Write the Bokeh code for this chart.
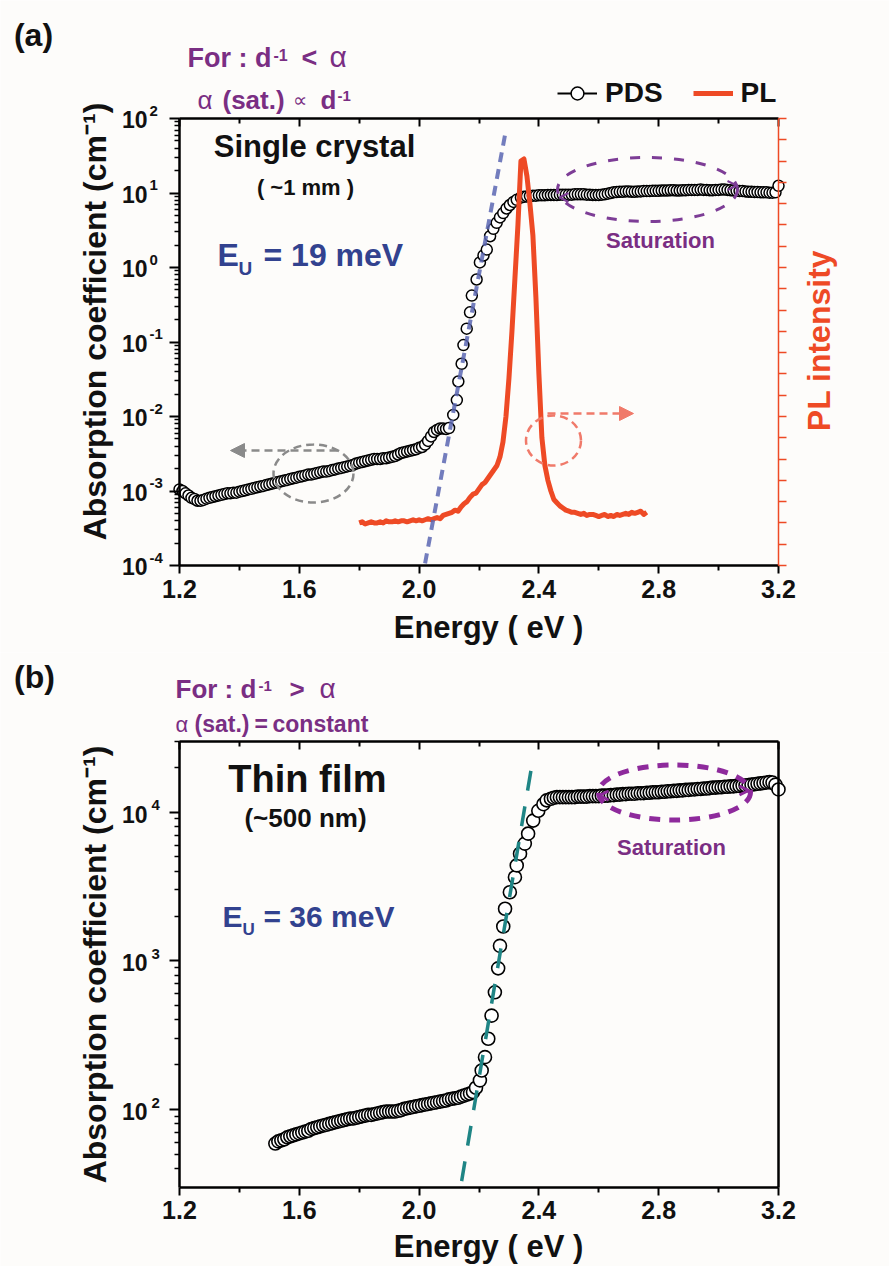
import math
import numpy as np
from bokeh.plotting import figure
from bokeh.models import (Range1d, LinearAxis, LogAxis, FixedTicker, CustomJSTickFormatter,
                          Label, Arrow, NormalHead, OpenHead, Legend, LegendItem, LinearScale)
from bokeh.layouts import column
from bokeh.embed import file_html
from bokeh.resources import INLINE

# ---------------- data ----------------
x_ticks_major = [1.2, 1.6, 2.0, 2.4, 2.8, 3.2]
x_ticks_minor = [1.4, 1.8, 2.2, 2.6, 3.0]
a_decades = [1e-4, 1e-3, 1e-2, 1e-1, 1e0, 1e1, 1e2]
a_exponents = ["-4", "-3", "-2", "-1", "0", "1", "2"]
b_decades = [1e2, 1e3, 1e4]
b_exponents = ["2", "3", "4"]

# (a) single crystal PDS
pds_a_energy = [
    1.20, 1.21, 1.22, 1.23, 1.24, 1.25, 1.26, 1.27, 1.28, 1.29,
    1.30, 1.31, 1.32, 1.33, 1.34, 1.35, 1.36, 1.37, 1.38, 1.39,
    1.40, 1.41, 1.42, 1.43, 1.44, 1.45, 1.46, 1.47, 1.48, 1.49,
    1.50, 1.51, 1.52, 1.53, 1.54, 1.55, 1.56, 1.57, 1.58, 1.59,
    1.60, 1.61, 1.62, 1.63, 1.64, 1.65, 1.66, 1.67, 1.68, 1.69,
    1.70, 1.71, 1.72, 1.73, 1.74, 1.75, 1.76, 1.77, 1.78, 1.79,
    1.80, 1.81, 1.82, 1.83, 1.84, 1.85, 1.86, 1.87, 1.88, 1.89,
    1.90, 1.91, 1.92, 1.93, 1.94, 1.95, 1.96, 1.97, 1.98, 1.99,
    2.00, 2.01, 2.02, 2.03, 2.04, 2.05, 2.06, 2.07, 2.08, 2.09, 2.10,
    2.114, 2.126, 2.131, 2.142, 2.148, 2.159, 2.170, 2.176, 2.192, 2.203,
    2.215, 2.226, 2.237, 2.248, 2.259, 2.270, 2.281, 2.292, 2.303, 2.315, 2.326,
    2.34, 2.35, 2.36, 2.37, 2.38, 2.39,
    2.40, 2.41, 2.42, 2.43, 2.44, 2.45, 2.46, 2.47, 2.48, 2.49,
    2.50, 2.51, 2.52, 2.53, 2.54, 2.55, 2.56, 2.57, 2.58, 2.59,
    2.60, 2.61, 2.62, 2.63, 2.64, 2.65, 2.66, 2.67, 2.68, 2.69,
    2.70, 2.71, 2.72, 2.73, 2.74, 2.75, 2.76, 2.77, 2.78, 2.79,
    2.80, 2.81, 2.82, 2.83, 2.84, 2.85, 2.86, 2.87, 2.88, 2.89,
    2.90, 2.91, 2.92, 2.93, 2.94, 2.95, 2.96, 2.97, 2.98, 2.99,
    3.00, 3.01, 3.02, 3.03, 3.04, 3.05, 3.06, 3.07, 3.08, 3.09,
    3.10, 3.11, 3.12, 3.13, 3.14, 3.15, 3.16, 3.17, 3.18, 3.19, 3.20,
]
pds_a_alpha = [
    1.05e-3, 1.00e-3, 9.3e-4, 8.7e-4, 8.1e-4, 7.8e-4, 7.4e-4, 7.4e-4, 7.6e-4, 7.9e-4,
    8.1e-4, 8.3e-4, 8.5e-4, 8.7e-4, 8.9e-4, 9.1e-4, 9.3e-4, 9.3e-4, 9.5e-4, 9.5e-4,
    9.8e-4, 1.00e-3, 1.02e-3, 1.05e-3, 1.07e-3, 1.10e-3, 1.12e-3, 1.15e-3, 1.17e-3, 1.20e-3,
    1.23e-3, 1.26e-3, 1.29e-3, 1.32e-3, 1.35e-3, 1.38e-3, 1.41e-3, 1.45e-3, 1.48e-3, 1.51e-3,
    1.55e-3, 1.58e-3, 1.62e-3, 1.66e-3, 1.66e-3, 1.70e-3, 1.74e-3, 1.78e-3, 1.82e-3, 1.82e-3,
    1.86e-3, 1.91e-3, 1.95e-3, 2.00e-3, 2.04e-3, 2.09e-3, 2.14e-3, 2.19e-3, 2.24e-3, 2.34e-3,
    2.40e-3, 2.45e-3, 2.51e-3, 2.57e-3, 2.63e-3, 2.69e-3, 2.69e-3, 2.69e-3, 2.75e-3, 2.75e-3,
    2.82e-3, 2.88e-3, 2.95e-3, 3.09e-3, 3.24e-3, 3.31e-3, 3.39e-3, 3.47e-3, 3.55e-3, 3.63e-3,
    3.80e-3, 3.90e-3, 4.2e-3, 4.7e-3, 5.4e-3, 6.2e-3, 6.6e-3, 6.9e-3, 6.9e-3, 6.8e-3, 7.0e-3,
    1.05e-2, 1.66e-2, 2.95e-2, 5.1e-2, 9.1e-2, 0.151, 0.25, 0.42, 0.69, 1.17,
    1.45, 1.74, 2.63, 3.3, 3.98, 4.7, 5.37, 6.2, 6.9, 7.6, 8.1,
    8.7, 8.9, 9.0, 9.1, 9.2, 9.2,
    9.3, 9.3, 9.3, 9.4, 9.4, 9.4, 9.4, 9.5, 9.5, 9.5,
    9.5, 9.5, 9.6, 9.6, 9.6, 9.6, 9.5, 9.5, 9.4, 9.4,
    9.4, 9.5, 9.6, 9.8, 10.0, 10.2, 10.3, 10.4, 10.4, 10.5,
    10.5, 10.4, 10.4, 10.5, 10.5, 10.6, 10.6, 10.6, 10.7, 10.7,
    10.7, 10.8, 10.8, 10.8, 10.9, 10.9, 10.8, 10.8, 10.9, 10.9,
    11.0, 11.0, 11.0, 11.0, 11.1, 11.0, 11.0, 10.9, 10.9, 11.0,
    11.0, 11.1, 11.1, 11.0, 10.9, 10.8, 10.7, 10.6, 10.6, 10.5,
    10.4, 10.4, 10.3, 10.3, 10.2, 10.2, 10.2, 10.1, 10.1, 10.2, 12.5,
]

# (a) photoluminescence (arbitrary units on the right axis)
pl_energy = [
    1.80, 1.81, 1.82, 1.83, 1.84, 1.85, 1.86, 1.87, 1.88, 1.89,
    1.90, 1.91, 1.92, 1.93, 1.94, 1.95, 1.96, 1.97, 1.98, 1.99,
    2.00, 2.01, 2.02, 2.03, 2.04, 2.05, 2.06, 2.07, 2.08, 2.09,
    2.10, 2.11, 2.12, 2.13, 2.14, 2.15, 2.16, 2.17, 2.18, 2.19,
    2.20, 2.21, 2.22, 2.23, 2.24, 2.25, 2.26, 2.27, 2.28, 2.29,
    2.30, 2.31, 2.32, 2.33, 2.34, 2.35, 2.36, 2.37, 2.38, 2.39,
    2.40, 2.41, 2.42, 2.43, 2.44, 2.45, 2.46, 2.47, 2.48, 2.49,
    2.50, 2.51, 2.52, 2.53, 2.54, 2.55, 2.56, 2.57, 2.58, 2.59,
    2.60, 2.61, 2.62, 2.63, 2.64, 2.65, 2.66, 2.67, 2.68, 2.69,
    2.70, 2.71, 2.72, 2.73, 2.74, 2.75, 2.76,
]
pl_intensity = [
    2.0, 2.05, 1.95, 2.0, 2.05, 2.0, 2.0, 2.05, 2.0, 2.1,
    2.05, 2.05, 2.1, 2.05, 2.1, 2.1, 2.05, 2.1, 2.15, 2.1,
    2.15, 2.1, 2.15, 2.2, 2.15, 2.2, 2.25, 2.2, 2.35, 2.4,
    2.45, 2.5, 2.6, 2.55, 2.75, 2.9, 3.0, 3.2, 3.35, 3.4,
    3.6, 3.8, 3.9, 4.1, 4.3, 4.5, 4.7, 5.1, 5.8, 7.0,
    8.8, 11.0, 13.5, 16.0, 19.0, 19.1, 18.3, 17.0, 15.5, 12.6,
    9.0, 6.0, 4.7, 4.0, 3.5, 3.1, 2.95, 2.8, 2.7, 2.6,
    2.55, 2.5, 2.5, 2.45, 2.4, 2.45, 2.35, 2.4, 2.4, 2.35,
    2.3, 2.35, 2.4, 2.3, 2.35, 2.3, 2.4, 2.35, 2.4, 2.45,
    2.4, 2.5, 2.45, 2.5, 2.55, 2.4, 2.5,
]
pl_ticks = [0, 1, 2, 3, 4, 5, 6, 7, 8, 9, 10, 11, 12, 13, 14, 15, 16, 17, 18, 19, 20, 21]

# (a) Urbach tail fit (E_U = 19 meV)
urbach_a_energy = [2.02, 2.29]
urbach_a_alpha = [1.07e-4, 7.0e1]

# (b) thin film PDS
pds_b_energy = [
    1.52, 1.53, 1.54, 1.55, 1.56, 1.57, 1.58, 1.59,
    1.60, 1.61, 1.62, 1.63, 1.64, 1.65, 1.66, 1.67, 1.68, 1.69,
    1.70, 1.71, 1.72, 1.73, 1.74, 1.75, 1.76, 1.77, 1.78, 1.79,
    1.80, 1.81, 1.82, 1.83, 1.84, 1.85, 1.86, 1.87, 1.88, 1.89,
    1.90, 1.91, 1.92, 1.93, 1.94, 1.95, 1.96, 1.97, 1.98, 1.99,
    2.00, 2.01, 2.02, 2.03, 2.04, 2.05, 2.06, 2.07, 2.08, 2.09,
    2.10, 2.11, 2.12, 2.13, 2.14, 2.15, 2.16, 2.17, 2.18,
    2.190, 2.203, 2.209, 2.220, 2.231, 2.242, 2.253, 2.264, 2.270, 2.281,
    2.287, 2.303, 2.320, 2.326, 2.337, 2.353, 2.364, 2.381, 2.398, 2.415,
    2.426, 2.44, 2.45,
    2.46, 2.47, 2.48, 2.49,
    2.50, 2.51, 2.52, 2.53, 2.54, 2.55, 2.56, 2.57, 2.58, 2.59,
    2.60, 2.61, 2.62, 2.63, 2.64, 2.65, 2.66, 2.67, 2.68, 2.69,
    2.70, 2.71, 2.72, 2.73, 2.74, 2.75, 2.76, 2.77, 2.78, 2.79,
    2.80, 2.81, 2.82, 2.83, 2.84, 2.85, 2.86, 2.87, 2.88, 2.89,
    2.90, 2.91, 2.92, 2.93, 2.94, 2.95, 2.96, 2.97, 2.98, 2.99,
    3.00, 3.01, 3.02, 3.03, 3.04, 3.05, 3.06, 3.07, 3.08, 3.09,
    3.10, 3.11, 3.12, 3.13, 3.14, 3.15, 3.16, 3.17, 3.18, 3.19, 3.20,
]
pds_b_alpha = [
    59, 61, 62, 63, 65, 66, 67, 68,
    69, 70, 71, 72, 74, 75, 76, 77, 78, 79,
    80, 81, 82, 83, 84, 85, 86, 87, 87, 88,
    89, 90, 91, 92, 92, 93, 94, 95, 96, 97,
    97, 97, 97, 98, 99, 101, 102, 103, 104, 105,
    106, 107, 108, 109, 110, 111, 112, 113, 114, 115,
    117, 118, 119, 120, 122, 124, 126, 128, 131,
    140, 157, 183, 225, 299, 428, 614, 890, 1260, 1700,
    2240, 2890, 3650, 4380, 5250, 6140, 7160, 8770, 10200, 11300,
    12000, 12300, 12500,
    12600, 12600, 12600, 12600,
    12600, 12600, 12600, 12700, 12700, 12700, 12700, 12800, 12800, 12800,
    12800, 12900, 12900, 12900, 13000, 13000, 13100, 13100, 13200, 13200,
    13300, 13300, 13300, 13400, 13400, 13400, 13500, 13500, 13600, 13600,
    13600, 13700, 13700, 13800, 13800, 13900, 13900, 14000, 14000, 14100,
    14100, 14200, 14200, 14300, 14300, 14400, 14400, 14500, 14600, 14600,
    14700, 14700, 14800, 14800, 14900, 14900, 15000, 15000, 15100, 15100,
    15200, 15300, 15400, 15500, 15600, 15700, 15800, 15900, 15800, 15300, 14200,
]

# (b) Urbach tail fit (E_U = 36 meV)
urbach_b_energy = [2.142, 2.381]
urbach_b_alpha = [33.0, 2.34e4]

# ---------------- layout constants (page pixels) ----------------
FONT = "Liberation Sans"
BG = "#fdfcfa"
PURPLE = "#7a2e83"
PURPLE_E = "#7d3d96"
PURPLE_E2 = "#8e2a9c"
BLUE_T = "#32428f"
RED = "#ee4a25"
INK = "#111111"
W = 889
H_A = 652          # panel (a) occupies page rows 0..652
H_B = 1266 - H_A   # panel (b) occupies the rest

X_LEFT, X_RIGHT = 179.0, 778.0          # frame edges (both panels)
A_TOP, A_BOT = 118.0, 565.0             # panel (a) frame, 1e2 .. 1e-4
A_DEC = (A_BOT - A_TOP) / 6.0
B_DEC = 148.7                            # panel (b) pixels per decade
B_Y100 = 1109.0                          # page row of 1e2 in panel (b)
PL_UNIT = (A_BOT - A_TOP) / 21.0


def px_x(px):
    return 1.2 + (px - X_LEFT) / ((X_RIGHT - X_LEFT) / 2.0)


def a_y(py):
    return 10 ** (-4 + (A_BOT - py) / A_DEC)


def b_y(py):
    return 10 ** (2 - (py - B_Y100) / B_DEC)


def pl_y(py):
    return (A_BOT - py) / PL_UNIT


def lab(p, x, y, text, size, color=INK, bold=True, align="left", angle=0.0):
    p.add_layout(Label(x=x, y=y, text=text, text_font=FONT,
                       text_font_size=f"{size}px",
                       text_font_style="bold" if bold else "normal",
                       text_color=color, text_align=align,
                       text_baseline="middle", angle=angle))


def tx(p, conv, px, base, text, size, color=INK, bold=True, align="left"):
    # place text by its baseline row (page pixels); rendered with a middle baseline
    lab(p, px_x(px), conv(base - 0.355 * size), text, size, color, bold, align)


def empty_fmt():
    return CustomJSTickFormatter(code="return ''")


def make_fig(height, y_lo, y_hi):
    p = figure(width=W, height=height,
               x_range=Range1d(px_x(0), px_x(W)), y_range=Range1d(y_lo, y_hi),
               y_axis_type="log", x_axis_location=None, y_axis_location=None,
               output_backend="svg", toolbar_location=None, min_border=0)
    p.background_fill_color = BG
    p.border_fill_color = BG
    p.outline_line_color = None
    p.xgrid.visible = False
    p.ygrid.visible = False
    return p


def add_x_axes(p, y_bottom, y_top):
    xt = FixedTicker(ticks=x_ticks_major, minor_ticks=x_ticks_minor)
    bot = LinearAxis(ticker=xt, fixed_location=y_bottom, bounds=(1.2, 3.2),
                     formatter=CustomJSTickFormatter(code="return tick.toFixed(1)"),
                     axis_line_width=2.5, major_tick_line_width=2, minor_tick_line_width=2,
                     major_tick_out=8, major_tick_in=0, minor_tick_out=5, minor_tick_in=0,
                     major_label_text_font=FONT, major_label_text_font_style="bold",
                     major_label_text_font_size="25px", major_label_text_color=INK,
                     major_label_standoff=6)
    p.add_layout(bot, "below")
    top = LinearAxis(ticker=xt, fixed_location=y_top, bounds=(1.2, 3.2),
                     formatter=empty_fmt(), axis_line_width=2.5,
                     major_tick_line_width=2, minor_tick_line_width=2,
                     major_tick_in=8, major_tick_out=0, minor_tick_in=5, minor_tick_out=0)
    p.add_layout(top, "above")


# ================= panel (a) =================
p1 = make_fig(H_A, a_y(H_A), a_y(0))
p1.extra_y_ranges = {"pl": Range1d(pl_y(H_A), pl_y(0))}
p1.extra_y_scales = {"pl": LinearScale()}
add_x_axes(p1, 1e-4, 1e2)
minor_a = [k * d for d in a_decades[:-1] for k in range(2, 10)]
left_a = LogAxis(ticker=FixedTicker(ticks=a_decades, minor_ticks=minor_a),
                 fixed_location=1.2, bounds=(1e-4, 1e2), formatter=empty_fmt(),
                 axis_line_width=2.5, major_tick_line_width=2, minor_tick_line_width=1.5,
                 major_tick_out=10, major_tick_in=0, minor_tick_out=5, minor_tick_in=0)
p1.add_layout(left_a, "left")
right_a = LinearAxis(y_range_name="pl", ticker=FixedTicker(ticks=pl_ticks),
                     fixed_location=3.2, bounds=(0, 21), formatter=empty_fmt(),
                     axis_line_color=RED, axis_line_width=1.5,
                     major_tick_line_color=RED, major_tick_line_width=1.5,
                     major_tick_out=8, major_tick_in=0, minor_tick_out=0, minor_tick_in=0)
p1.add_layout(right_a, "right")

leg_line = p1.line(x=np.array([np.nan, np.nan]), y=np.array([np.nan, np.nan]),
                   line_color="black", line_width=2)
sc_a = p1.scatter(pds_a_energy, pds_a_alpha, marker="circle", size=11,
                  fill_color="white", line_color="black", line_width=1.5)
pl_r = p1.line(pl_energy, pl_intensity, y_range_name="pl", line_color=RED,
               line_width=5, line_join="round")
p1.line(urbach_a_energy, urbach_a_alpha, line_color="#5a66b2", line_alpha=0.85,
        line_width=4, line_dash="10 7")

p1.ellipse(x=[px_x(313)], y=[a_y(473)], width=80, height=58, width_units="screen",
           height_units="screen", fill_alpha=0, line_color="#8a8a8a",
           line_width=2.5, line_dash="8 5")
p1.ellipse(x=[px_x(553)], y=[a_y(440)], width=55, height=50, width_units="screen",
           height_units="screen", fill_alpha=0, line_color="#f07a6a",
           line_width=2.5, line_dash="8 5")
p1.ellipse(x=[px_x(647)], y=[a_y(189)], width=180, height=64, width_units="screen",
           height_units="screen", fill_alpha=0, line_color=PURPLE_E,
           line_width=3, line_dash="10 12")

p1.add_layout(Arrow(x_start=px_x(337), y_start=a_y(450), x_end=px_x(230), y_end=a_y(450),
                    line_color="#8a8a8a", line_width=2.5, line_dash="8 5",
                    end=NormalHead(size=14, fill_color="#8a8a8a", line_color="#8a8a8a")))
p1.add_layout(Arrow(x_start=px_x(547), y_start=a_y(413), x_end=px_x(633), y_end=a_y(413),
                    line_color="#f07a6a", line_width=2.5, line_dash="8 5",
                    end=NormalHead(size=14, fill_color="#f07a6a", line_color="#f07a6a")))
p1.add_layout(Arrow(x_start=px_x(572), y_start=a_y(197), x_end=px_x(559), y_end=a_y(197),
                    line_alpha=0, end=OpenHead(size=9, line_color=PURPLE_E, line_width=2)))
p1.add_layout(Arrow(x_start=px_x(722), y_start=a_y(185), x_end=px_x(736), y_end=a_y(185),
                    line_alpha=0, end=OpenHead(size=9, line_color=PURPLE_E, line_width=2)))

legend = Legend(items=[LegendItem(label="PDS", renderers=[leg_line, sc_a]),
                       LegendItem(label="PL", renderers=[pl_r])],
                location=(557, H_A - 109), orientation="horizontal",
                glyph_width=40, glyph_height=32, label_height=32,
                label_standoff=8, spacing=30, padding=0, margin=0,
                label_text_font=FONT, label_text_font_size="28px",
                label_text_font_style="bold", label_text_color=INK,
                border_line_alpha=0, background_fill_alpha=0)
p1.add_layout(legend)

for d, e in zip(a_decades, a_exponents):
    py = A_BOT - (math.log10(d) + 4) * A_DEC
    lab(p1, px_x(147), a_y(py + 1), "10", 23, align="right")
    lab(p1, px_x(149), a_y(py - 8), e, 15, align="left")

lab(p1, px_x(94), a_y(321), "Absorption coefficient (cm\u207b\u00b9)", 32,
    align="center", angle=math.pi / 2)
tx(p1, a_y, 488, 638, "Energy ( eV )", 31, align="center")
lab(p1, px_x(818), a_y(340), "PL intensity", 32, RED, align="center", angle=math.pi / 2)

lab(p1, px_x(33), a_y(34), "(a)", 32, align="center")
tx(p1, a_y, 187, 67, "For : d", 27, PURPLE)
tx(p1, a_y, 273, 60, "-1", 16, PURPLE)
tx(p1, a_y, 301, 67, "<", 27, PURPLE)
tx(p1, a_y, 329, 67, "\u03b1", 30, PURPLE, bold=False)
tx(p1, a_y, 197, 109, "\u03b1", 26, PURPLE, bold=False)
tx(p1, a_y, 222, 109, "(sat.)", 26, PURPLE)
tx(p1, a_y, 292, 107, "\u221d", 20, PURPLE, bold=False)
tx(p1, a_y, 320, 109, "d", 26, PURPLE)
tx(p1, a_y, 337, 101, "-1", 15, PURPLE)
tx(p1, a_y, 314, 157, "Single crystal", 31, align="center")
tx(p1, a_y, 305, 195, "( ~1 mm )", 22, align="center")
tx(p1, a_y, 217, 266, "E", 32, BLUE_T)
tx(p1, a_y, 238, 275, "U", 19, BLUE_T)
tx(p1, a_y, 263, 266, "= 19 meV", 32, BLUE_T)
tx(p1, a_y, 660, 248, "Saturation", 22, PURPLE, align="center")

# ================= panel (b) =================
p2 = make_fig(H_B, b_y(1266), b_y(H_A))
add_x_axes(p2, 30, 3e4)
minor_b = [40.0, 50.0, 60.0, 70.0, 80.0, 90.0] + \
          [k * d for d in [100.0, 1000.0] for k in range(2, 10)] + [20000.0, 30000.0]
left_b = LogAxis(ticker=FixedTicker(ticks=b_decades, minor_ticks=minor_b),
                 fixed_location=1.2, bounds=(30, 3e4), formatter=empty_fmt(),
                 axis_line_width=2.5, major_tick_line_width=2, minor_tick_line_width=1.5,
                 major_tick_out=10, major_tick_in=0, minor_tick_out=5, minor_tick_in=0)
p2.add_layout(left_b, "left")
right_b = LogAxis(ticker=FixedTicker(ticks=[]), fixed_location=3.2, bounds=(30, 3e4),
                  formatter=empty_fmt(), axis_line_width=2.5, major_tick_out=0,
                  major_tick_in=0, minor_tick_out=0, minor_tick_in=0)
p2.add_layout(right_b, "right")

p2.scatter(pds_b_energy, pds_b_alpha, marker="circle", size=13,
           fill_color="white", line_color="black", line_width=1.6)
p2.line(urbach_b_energy, urbach_b_alpha, line_color="#1f8585", line_width=3.5,
        line_dash="20 16")

p2.ellipse(x=[px_x(674)], y=[b_y(792)], width=152, height=55, width_units="screen",
           height_units="screen", fill_alpha=0, line_color=PURPLE_E2,
           line_width=5, line_dash="11 9")
p2.add_layout(Arrow(x_start=px_x(612), y_start=b_y(795), x_end=px_x(599), y_end=b_y(795),
                    line_alpha=0, end=OpenHead(size=9, line_color=PURPLE_E2, line_width=3)))
p2.add_layout(Arrow(x_start=px_x(735), y_start=b_y(790), x_end=px_x(748), y_end=b_y(790),
                    line_alpha=0, end=OpenHead(size=9, line_color=PURPLE_E2, line_width=3)))

for d, e in zip(b_decades, b_exponents):
    py = B_Y100 - (math.log10(d) - 2) * B_DEC
    lab(p2, px_x(147), b_y(py + 2), "10", 23, align="right")
    lab(p2, px_x(151), b_y(py - 7), e, 15, align="left")

lab(p2, px_x(94), b_y(964), "Absorption coefficient (cm\u207b\u00b9)", 32,
    align="center", angle=math.pi / 2)
tx(p2, b_y, 488, 1257, "Energy ( eV )", 31, align="center")

lab(p2, px_x(34), b_y(676), "(b)", 32, align="center")
tx(p2, b_y, 175, 698, "For : d", 26, PURPLE)
tx(p2, b_y, 258, 691, "-1", 15, PURPLE)
tx(p2, b_y, 289, 698, ">", 26, PURPLE)
tx(p2, b_y, 319, 698, "\u03b1", 28, PURPLE, bold=False)
tx(p2, b_y, 175, 732, "\u03b1", 22, PURPLE, bold=False)
tx(p2, b_y, 194, 732, "(sat.)", 23, PURPLE)
tx(p2, b_y, 254, 732, "=", 23, PURPLE)
tx(p2, b_y, 272, 732, "constant", 23, PURPLE)
tx(p2, b_y, 307, 792, "Thin film", 38, align="center")
tx(p2, b_y, 305, 827, "(~500 nm)", 26, align="center")
tx(p2, b_y, 222, 927, "E", 30, BLUE_T)
tx(p2, b_y, 242, 935, "U", 17, BLUE_T)
tx(p2, b_y, 263, 927, "= 36 meV", 30, BLUE_T)
tx(p2, b_y, 671, 855, "Saturation", 22, PURPLE, align="center")

layout = column(p1, p2, spacing=0)
open("out.html", "w").write(file_html(layout, INLINE))
